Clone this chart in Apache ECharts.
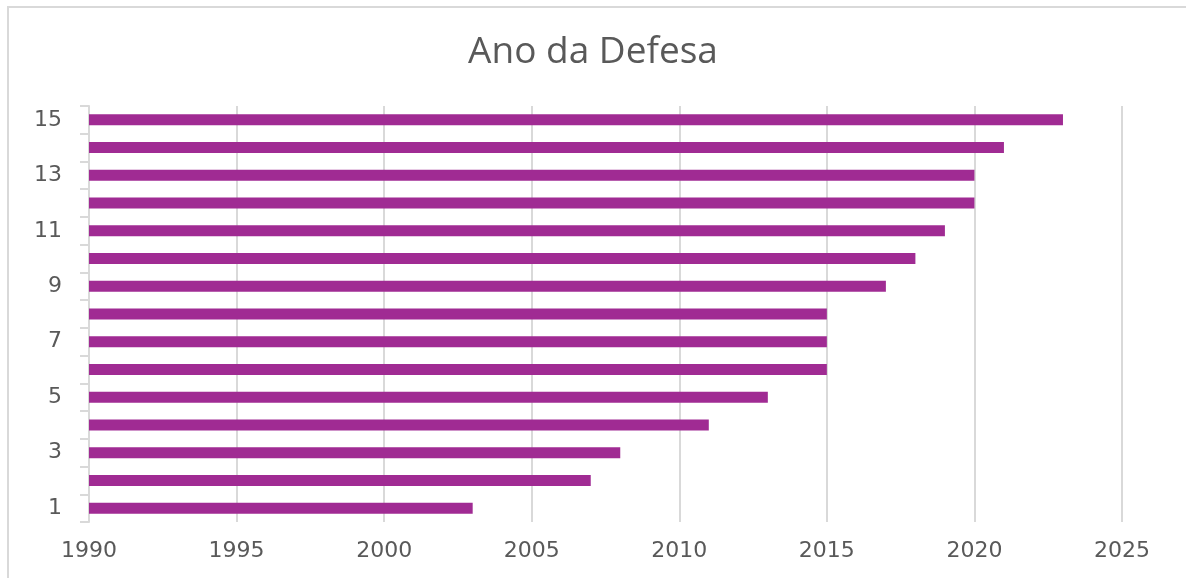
<!DOCTYPE html>
<html><head><meta charset="utf-8">
<script src="https://cdn.jsdelivr.net/npm/echarts@6/dist/echarts.min.js"></script>
<style>html,body{margin:0;padding:0;background:#fff}#c{width:1186px;height:578px}</style>
</head><body><div id="c"></div>
<script>
const categories = ['1','2','3','4','5','6','7','8','9','10','11','12','13','14','15'];
const years = [2003, 2007, 2008, 2011, 2013, 2015, 2015, 2015, 2017, 2018, 2019, 2020, 2020, 2021, 2023];
const xMin = 1990, xMax = 2025, xStep = 5;
const chart = echarts.init(document.getElementById('c'));
chart.setOption({
  animation: false,
  backgroundColor: '#fff',
  graphic: [{type:'rect', shape:{x:8, y:7, width:1200, height:600}, style:{fill:'none', stroke:'#d9d9d9', lineWidth:2}, silent:true}],
  title: {text:'Ano da Defesa', left:'center', top:29, textStyle:{fontFamily:'Open Sans', fontSize:37, fontWeight:'normal', color:'#595959'}},
  grid: {left:89, right:64, top:106, bottom:56, containLabel:false},
  xAxis: {type:'value', min:xMin, max:xMax, interval:xStep,
    axisLine:{show:false}, axisTick:{show:false},
    splitLine:{show:true, lineStyle:{color:'#d9d9d9', width:2}},
    axisLabel:{color:'#595959', fontSize:22, fontFamily:'DejaVu Sans', margin:18, formatter:v => String(v)}},
  yAxis: {type:'category', data:categories, boundaryGap:true,
    axisLine:{show:true, lineStyle:{color:'#d9d9d9', width:2}},
    axisTick:{show:true, length:9, interval:0, lineStyle:{color:'#d9d9d9', width:2}},
    axisLabel:{interval:1, color:'#595959', fontSize:22, fontFamily:'DejaVu Sans', margin:27}},
  series: [{type:'bar', data:years, barWidth:11, itemStyle:{color:'#A02B93'}, silent:true}]
});
</script></body></html>
